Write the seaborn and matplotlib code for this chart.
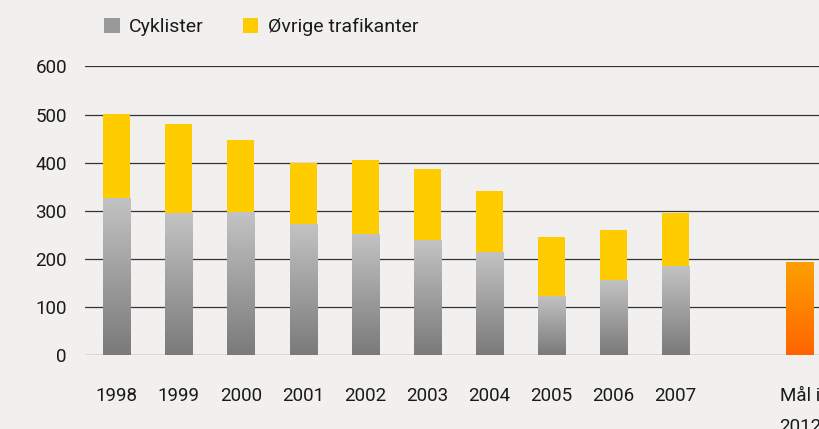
import numpy as np
import pandas as pd
import seaborn as sns
import matplotlib.pyplot as plt
from matplotlib.colors import LinearSegmentedColormap
from matplotlib.patches import Patch

years = ["1998", "1999", "2000", "2001", "2002", "2003", "2004", "2005", "2006", "2007"]
cyklister = [327, 295, 297, 272, 252, 239, 214, 123, 156, 185]
total = [502, 481, 448, 400, 405, 386, 342, 245, 259, 295]
goal_label = "Mål i\n2012"
goal_value = 193

bg = "#f1f0ee"
yellow = "#ffcc00"
gray_cmap = LinearSegmentedColormap.from_list("grays", ["#7a7a7a", "#c3c3c3"])
orange_cmap = LinearSegmentedColormap.from_list("orange", ["#ff6400", "#ff9f00"])

sns.set_theme(style="white")
plt.rcParams["font.family"] = ["Roboto", "DejaVu Sans"]

order = years + [" ", goal_label]
df_total = pd.DataFrame({"label": years + [goal_label], "value": total + [goal_value]})
df_cyc = pd.DataFrame({"label": years, "value": cyklister})

fig = plt.figure(figsize=(8.2, 4.29), dpi=100, facecolor=bg)
ax = fig.add_axes([85 / 820, 74 / 429, (831 - 85) / 820, (355 - 66.5) / 429])
ax.set_facecolor(bg)

sns.barplot(data=df_total, x="label", y="value", order=order, color=yellow,
            saturation=1, width=0.435, ax=ax, zorder=2, edgecolor="none", linewidth=0)
sns.barplot(data=df_cyc, x="label", y="value", order=order, color="#999999",
            saturation=1, width=0.435, ax=ax, zorder=3, edgecolor="none", linewidth=0)

# gradient fills for cyclist bars and the goal bar
def gradient_fill(patch, cmap, z):
    x, y = patch.get_x(), patch.get_y()
    w, h = patch.get_width(), patch.get_height()
    grad = np.linspace(0, 1, 256).reshape(-1, 1)
    im = ax.imshow(grad, extent=[x, x + w, y, y + h], origin="lower",
                   cmap=cmap, aspect="auto", zorder=z, interpolation="bicubic")
    im.set_clip_path(patch)
    patch.set_facecolor("none")

for p in ax.containers[1]:
    gradient_fill(p, gray_cmap, 3)
for p in ax.containers[0]:
    if p.get_x() + p.get_width() / 2 > 10.5:
        gradient_fill(p, orange_cmap, 2)

ax.set_xlim(-0.51, 11.5)
ax.set_ylim(0, 600)
ax.set_yticks(range(0, 601, 100))
ax.yaxis.grid(True, color="#333333", linewidth=0.9)
ax.set_axisbelow(True)
for s in ax.spines.values():
    s.set_visible(False)
ax.set_xlabel("")
ax.set_ylabel("")
ax.tick_params(axis="y", length=0, pad=13, labelsize=13.5, labelcolor="#1a1a1a")
ax.tick_params(axis="x", length=0, pad=23, labelsize=13.5, labelcolor="#1a1a1a")
for t in ax.get_xticklabels():
    t.set_linespacing(1.9)

handles = [Patch(facecolor="#999999", edgecolor="none", label="Cyklister"),
           Patch(facecolor=yellow, edgecolor="none", label="Øvrige trafikanter")]
fig.legend(handles=handles, loc="center left", bbox_to_anchor=(104 / 820, 1 - 27 / 429),
           ncol=2, frameon=False, fontsize=14, handlelength=0.8, handleheight=0.8,
           handletextpad=0.5, columnspacing=2.0, borderpad=0, borderaxespad=0,
           labelcolor="#1a1a1a")

fig.savefig("out.png", dpi=100, facecolor=bg)
